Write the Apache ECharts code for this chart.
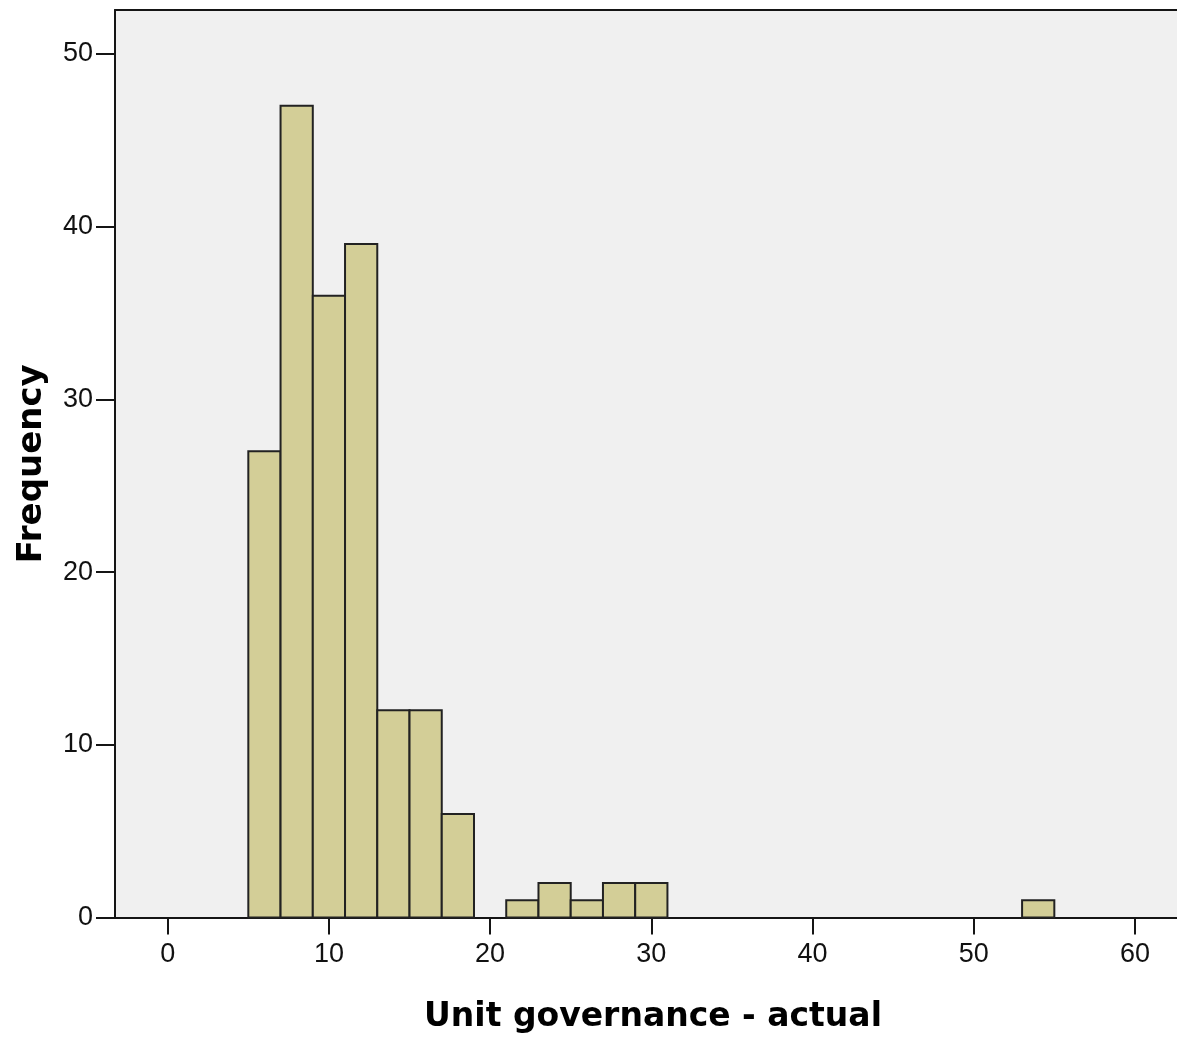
<!DOCTYPE html>
<html>
<head>
<meta charset="utf-8">
<script src="https://cdn.jsdelivr.net/npm/echarts@6/dist/echarts.min.js"></script>
<style>
html,body{margin:0;padding:0;background:#fff;}
#chart{width:1177px;height:1041px;}
</style>
</head>
<body>
<div id="chart"></div>
<script>
// Histogram bins (lower edge), bin width and frequencies
const binStarts = [5, 7, 9, 11, 13, 15, 17, 21, 23, 25, 27, 29, 53];
const binWidth = 2;
const counts = [27, 47, 36, 39, 12, 12, 6, 1, 2, 1, 2, 2, 1];
const xTicks = [0, 10, 20, 30, 40, 50, 60];
const yTicks = [0, 10, 20, 30, 40, 50];
const xTitle = 'Unit governance - actual';
const yTitle = 'Frequency';

const data = binStarts.map((s, i) => [s, s + binWidth, counts[i]]);

const chart = echarts.init(document.getElementById('chart'), null, {renderer: 'canvas'});
const labelFont = {fontFamily: 'Liberation Sans', fontSize: 27, color: '#111'};
const nameFont = {fontFamily: 'DejaVu Sans', fontWeight: 'bold', fontSize: 33, color: '#000'};
const lineStyle = {color: '#151515', width: 2};

chart.setOption({
  animation: false,
  backgroundColor: '#ffffff',
  grid: {
    left: 115, top: 10, right: 0, bottom: 123.5,
    show: true, backgroundColor: '#f0f0f0', borderWidth: 0
  },
  xAxis: [{
    type: 'value', min: -3.27, max: 62.61, position: 'bottom',
    splitLine: {show: false},
    axisLine: {show: true, onZero: false, lineStyle: lineStyle},
    axisTick: {show: true, length: 17, customValues: xTicks, lineStyle: lineStyle},
    axisLabel: Object.assign({margin: 24, customValues: xTicks}, labelFont),
    name: xTitle, nameLocation: 'middle', nameGap: 83,
    nameTextStyle: Object.assign({padding: [0, 0, 0, 14]}, nameFont)
  }, {
    type: 'value', min: -3.27, max: 62.61, position: 'top',
    splitLine: {show: false},
    axisLine: {show: true, onZero: false, lineStyle: lineStyle},
    axisTick: {show: false}, axisLabel: {show: false}
  }],
  yAxis: {
    type: 'value', min: 0, max: 52.55,
    splitLine: {show: false},
    axisLine: {show: true, onZero: false, lineStyle: lineStyle},
    axisTick: {show: true, length: 19, customValues: yTicks, lineStyle: lineStyle},
    axisLabel: Object.assign({margin: 22, customValues: yTicks}, labelFont),
    name: yTitle, nameLocation: 'middle', nameGap: 66,
    nameTextStyle: Object.assign({}, nameFont, {fontSize: 34})
  },
  series: [{
    type: 'custom',
    xAxisIndex: 0,
    data: data,
    encode: {x: [0, 1], y: 2},
    renderItem: function (params, api) {
      const p0 = api.coord([api.value(0), api.value(2)]);
      const p1 = api.coord([api.value(1), 0]);
      return {
        type: 'rect',
        shape: {x: p0[0], y: p0[1], width: p1[0] - p0[0], height: p1[1] - p0[1]},
        style: {fill: '#d3ce97', stroke: '#222222', lineWidth: 2}
      };
    }
  }]
});
</script>
</body>
</html>
